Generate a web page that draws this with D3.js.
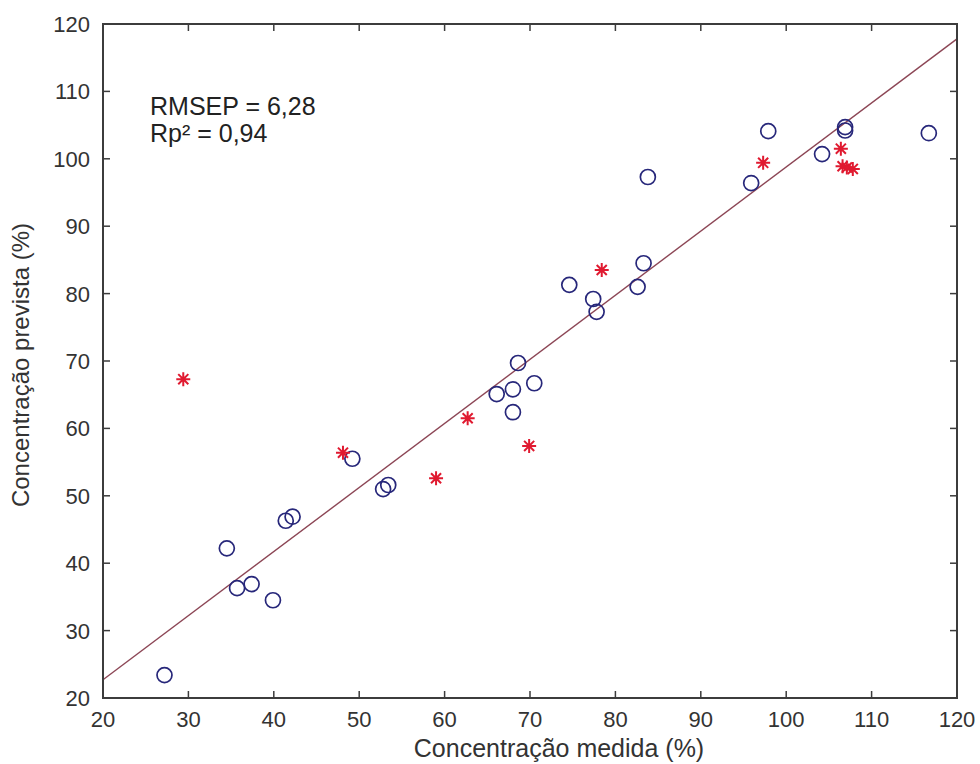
<!DOCTYPE html>
<html><head><meta charset="utf-8">
<script src="https://cdn.jsdelivr.net/npm/d3@7"></script>
<style>
body{margin:0;background:#fff;}
svg text{font-family:"Liberation Sans",Arial,sans-serif;}
</style></head>
<body><svg id="c" width="980" height="764"></svg>
<script>
const xTicks = [20,30,40,50,60,70,80,90,100,110,120];
const yTicks = [20,30,40,50,60,70,80,90,100,110,120];
const circleX = [27.2,34.5,35.7,37.4,39.9,41.4,42.2,49.2,52.8,53.4,66.1,68.0,68.0,68.6,70.5,74.6,77.4,77.8,82.6,83.3,83.8,95.9,97.9,104.2,106.9,106.9,116.7];
const circleY = [23.4,42.2,36.3,36.9,34.5,46.3,46.9,55.5,51.0,51.6,65.1,65.8,62.4,69.7,66.7,81.3,79.2,77.3,81.0,84.5,97.3,96.4,104.1,100.7,104.7,104.2,103.8];
const starX = [29.4,48.1,59.0,62.7,69.9,78.4,97.3,106.4,106.6,107.1,107.8];
const starY = [67.3,56.4,52.6,61.5,57.4,83.5,99.4,101.5,98.9,98.7,98.5];
const fitX = [20,120];
const fitY = [22.7,117.8];
const annotation = ["RMSEP = 6,28","Rp² = 0,94"];
const xLabel = "Concentração medida (%)";
const yLabel = "Concentração prevista (%)";

const L=103,R=957,T=24,B=698;
const svg=d3.select("#c");
const x=d3.scaleLinear().domain([20,120]).range([L,R]);
const y=d3.scaleLinear().domain([20,120]).range([B,T]);
const axisCol="#3c3c3c", txtCol="#333";

// fit line
svg.append("path").datum(fitX.map((d,i)=>[d,fitY[i]]))
  .attr("d",d3.line().x(d=>x(d[0])).y(d=>y(d[1])))
  .attr("fill","none").attr("stroke","#8c4655").attr("stroke-width",1.4);

// circles
svg.append("g").selectAll("circle").data(circleX.map((d,i)=>[d,circleY[i]])).join("circle")
  .attr("cx",d=>x(d[0])).attr("cy",d=>y(d[1])).attr("r",7.5)
  .attr("fill","none").attr("stroke","#27277a").attr("stroke-width",1.7);

// stars (asterisk)
const s=7, s2=s*0.72;
const starPath=`M${-s},0L${s},0M0,${-s}L0,${s}M${-s2},${-s2}L${s2},${s2}M${-s2},${s2}L${s2},${-s2}`;
svg.append("g").selectAll("path").data(starX.map((d,i)=>[d,starY[i]])).join("path")
  .attr("transform",d=>`translate(${x(d[0])},${y(d[1])})`)
  .attr("d",starPath).attr("fill","none").attr("stroke","#e01a30").attr("stroke-width",2);

// axes box
const ax=svg.append("g");
ax.append("rect").attr("x",L).attr("y",T).attr("width",R-L).attr("height",B-T)
  .attr("fill","none").attr("stroke",axisCol).attr("stroke-width",2);
const tl=7;
xTicks.forEach(t=>{
  ax.append("line").attr("x1",x(t)).attr("x2",x(t)).attr("y1",B).attr("y2",B-tl).attr("stroke",axisCol).attr("stroke-width",1.5);
  ax.append("line").attr("x1",x(t)).attr("x2",x(t)).attr("y1",T).attr("y2",T+tl).attr("stroke",axisCol).attr("stroke-width",1.5);
  ax.append("text").attr("x",x(t)).attr("y",B+29).attr("text-anchor","middle")
    .attr("font-size",22).attr("fill",txtCol).text(t);
});
yTicks.forEach(t=>{
  ax.append("line").attr("x1",L).attr("x2",L+tl).attr("y1",y(t)).attr("y2",y(t)).attr("stroke",axisCol).attr("stroke-width",1.5);
  ax.append("line").attr("x1",R).attr("x2",R-tl).attr("y1",y(t)).attr("y2",y(t)).attr("stroke",axisCol).attr("stroke-width",1.5);
  ax.append("text").attr("x",L-13).attr("y",y(t)+8).attr("text-anchor","end")
    .attr("font-size",22).attr("fill",txtCol).text(t);
});

// labels
svg.append("text").attr("x",559).attr("y",757).attr("text-anchor","middle")
  .attr("font-size",25).attr("fill",txtCol).text(xLabel);
svg.append("text").attr("transform",`translate(29,365) rotate(-90)`).attr("text-anchor","middle")
  .attr("font-size",24).attr("fill",txtCol).text(yLabel);

// annotation
annotation.forEach((t,i)=>{
  svg.append("text").attr("x",150).attr("y",115+i*27).attr("font-size",25).attr("fill","#222").text(t);
});
</script></body></html>
